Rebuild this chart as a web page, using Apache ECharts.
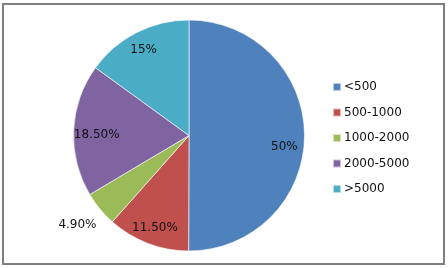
<!DOCTYPE html>
<html>
<head>
<meta charset="utf-8">
<script src="https://cdn.jsdelivr.net/npm/echarts@6/dist/echarts.min.js"></script>
<style>
html,body{margin:0;padding:0;background:#fff;}
#wrap{position:relative;width:448px;height:268px;overflow:hidden;}
#chart{position:absolute;left:0;top:0;width:448px;height:268px;}
#frame{position:absolute;left:2px;top:3px;width:439px;height:258px;border:2px solid #7f7f7f;pointer-events:none;}
</style>
</head>
<body>
<div id="wrap"><div id="chart"></div><div id="frame"></div></div>
<script>
var categories = ['<500', '500-1000', '1000-2000', '2000-5000', '>5000'];
var values = [50, 11.5, 4.9, 18.5, 15];
var labelTexts = ['50%', '11.50%', '4.90%', '18.50%', '15%'];

var colors = ['#4F81BD', '#C0504D', '#9BBB59', '#8064A2', '#4BACC6'];
var labelOffsets = [[0, 11], [0, 3], [-38, 29], [3, 4], [-2, -1]];

var CX = 189, CY = 135.5, R = 115.5;
var font = 'DejaVu Sans';

var mainData = categories.map(function (c, i) {
  return { name: c, value: values[i], itemStyle: { color: colors[i] } };
});
var labelData = categories.map(function (c, i) {
  return {
    name: c, value: values[i],
    label: { offset: labelOffsets[i], formatter: labelTexts[i] }
  };
});

var chart = echarts.init(document.getElementById('chart'), null, { renderer: 'canvas' });
chart.setOption({
  animation: false,
  color: colors,
  legend: {
    orient: 'vertical',
    left: 332,
    top: 80,
    padding: 0,
    itemWidth: 8,
    itemHeight: 8,
    itemGap: 11.5,
    icon: 'rect',
    data: categories,
    textStyle: { fontFamily: font, fontSize: 12, color: '#111', lineHeight: 14, padding: [0, 0, 0, -2] }
  },
  series: [
    {
      type: 'pie',
      center: [CX, CY],
      radius: [0, R],
      startAngle: 90,
      clockwise: true,
      silent: true,
      label: { show: false },
      labelLine: { show: false },
      itemStyle: { borderColor: 'rgba(255,255,255,0.6)', borderWidth: 1 },
      data: mainData
    },
    {
      type: 'pie',
      center: [CX, CY],
      radius: [R * 0.6, R],
      startAngle: 90,
      clockwise: true,
      silent: true,
      legendHoverLink: false,
      itemStyle: { color: 'rgba(0,0,0,0)', borderWidth: 0 },
      label: {
        show: true,
        position: 'inside',
        fontFamily: font,
        fontSize: 12,
        color: '#111'
      },
      labelLine: { show: false },
      data: labelData
    }
  ]
});
</script>
</body>
</html>
